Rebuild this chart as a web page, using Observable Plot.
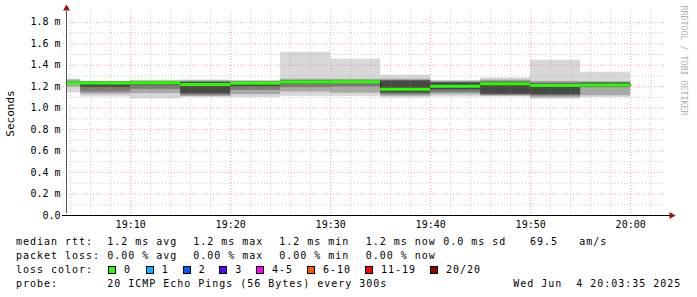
<!DOCTYPE html>
<html><head><meta charset="utf-8">
<script src="https://cdn.jsdelivr.net/npm/d3@7"></script>
<script src="https://cdn.jsdelivr.net/npm/@observablehq/plot@0.6"></script>
<style>
html,body{margin:0;padding:0;background:#fff;}
#wrap{width:697px;height:297px;overflow:hidden;background:#fff;}
#legend{position:relative;width:697px;height:65px;font-family:"DejaVu Sans Mono",monospace;font-size:10px;color:#000;}
#legend span.t{position:absolute;white-space:pre;line-height:12px;letter-spacing:0.98px;}
#legend span.sq{position:absolute;width:6px;height:6px;border:1px solid #000;}
svg{display:block;}
</style></head>
<body><div id="wrap"><div id="chart"></div><div id="legend"></div></div>
<script>
// ---- data (median RTT and smoke quantile bands, in milliseconds) ----
const segmentEnds = ["19:05","19:10","19:15","19:20","19:25","19:30","19:35","19:40","19:45","19:50","19:55","20:00"];
const medianRtt = [1.234,1.233,1.237,1.219,1.231,1.243,1.246,1.177,1.203,1.228,1.210,1.215];
const pingMax   = [1.269,1.246,1.259,1.262,1.259,1.520,1.455,1.306,1.259,1.281,1.446,1.334];
const smokeHi2  = [1.262,1.245,1.252,1.255,1.250,1.270,1.268,1.270,1.250,1.262,1.250,1.245];
const smokeHi3  = [1.245,1.244,1.245,1.245,1.243,1.258,1.258,1.258,1.242,1.250,1.235,1.238];
const smokeHi4  = [1.240,1.242,1.241,1.238,1.238,1.250,1.250,1.253,1.235,1.238,1.222,1.232];
const smokeLo4  = [1.232,1.191,1.215,1.135,1.200,1.225,1.230,1.141,1.170,1.130,1.125,1.200];
const smokeLo3  = [1.225,1.150,1.175,1.120,1.165,1.190,1.197,1.125,1.145,1.120,1.112,1.190];
const smokeLo2  = [1.197,1.129,1.135,1.108,1.125,1.150,1.140,1.110,1.126,1.112,1.098,1.115];
const pingMin   = [1.141,1.104,1.087,1.098,1.098,1.110,1.110,1.094,1.104,1.104,1.082,1.098];

const yTickValues = [0,0.2,0.4,0.6,0.8,1.0,1.2,1.4,1.6,1.8];
const yTickLabels = ["0.0","0.2 m","0.4 m","0.6 m","0.8 m","1.0 m","1.2 m","1.4 m","1.6 m","1.8 m"];
const xTickLabels = ["19:10","19:20","19:30","19:40","19:50","20:00"];

const legendRows = [
  ["median rtt:", "1.2 ms avg", "1.2 ms max", "1.2 ms min", "1.2 ms now", "0.0 ms sd", "69.5", "am/s"],
  ["packet loss:", "0.00 % avg", "0.00 % max", "0.00 % min", "0.00 % now"],
  ["loss color:"],
  ["probe:", "20 ICMP Echo Pings (56 Bytes) every 300s", "Wed Jun  4 20:03:35 2025"]
];
const lossLabels = ["0","1","2","3","4-5","6-10","11-19","20/20"];
const lossColors = ["#26ff00","#00b8ff","#0059ff","#5e00ff","#ff00ff","#ff5500","#ff0000","#a00000"];

// ---- build ----
const toTime = hm => { const [h,m] = hm.split(":").map(Number); return new Date(2025,5,4,h,m,0); };
const xStart = new Date(2025,5,4,19,3,35), xEnd = new Date(2025,5,4,20,3,35);
const STEP = 5*60*1000;
const segs = segmentEnds.map((e,i) => { const x2 = toTime(e); return {x1: new Date(+x2 - STEP), x2, med: medianRtt[i]}; });
const levels = [
  {lo: pingMin, hi: pingMax, fill: "#d8d8d8"},
  {lo: smokeLo2, hi: smokeHi2, fill: "#a8a8a8"},
  {lo: smokeLo3, hi: smokeHi3, fill: "#7a7a7a"},
  {lo: smokeLo4, hi: smokeHi4, fill: "#484848"}
];
const stepLine = [{x: segs[0].x1, y: medianRtt[0]}, ...segs.map(s => ({x: s.x2, y: s.med}))];

const yLabelMap = new Map(yTickValues.map((v,i) => [v.toFixed(1), yTickLabels[i]]));
const xMajor = xTickLabels.map(toTime);
const xLabelMap = new Map(xMajor.map((d,i) => [+d, xTickLabels[i]]));
const xMinor = d3.timeMinute.every(2).range(xStart, xEnd).filter(d => d.getMinutes() % 10 !== 0);
const yMinor = d3.range(1, 19, 2).map(k => k/10);

const plot = Plot.plot({
  width: 697, height: 232,
  marginLeft: 66, marginRight: 31, marginTop: 11, marginBottom: 17,
  style: {fontFamily: "DejaVu Sans Mono", fontSize: "10px", background: "white", color: "#000"},
  x: {type: "time", domain: [xStart, xEnd]},
  y: {domain: [0, 1.9]},
  marks: [
    ...levels.map(L => Plot.rect(segs, {x1: "x1", x2: "x2", y1: (d,i) => L.lo[i], y2: (d,i) => L.hi[i], fill: L.fill, clip: true})),
    Plot.ruleY(yMinor, {stroke: "#a0a0a0", strokeOpacity: 0.55, strokeDasharray: "1,2", insetLeft: -3}),
    Plot.ruleX(xMinor, {stroke: "#a0a0a0", strokeOpacity: 0.55, strokeDasharray: "1,2"}),
    Plot.ruleY(yTickValues.slice(1), {stroke: "#e05050", strokeOpacity: 0.5, strokeDasharray: "1,2", insetLeft: -3}),
    Plot.ruleX(xMajor, {stroke: "#e05050", strokeOpacity: 0.5, strokeDasharray: "1,2"}),
    Plot.line(stepLine, {x: "x", y: "y", curve: "step-before", stroke: "#202020", strokeWidth: 1, clip: true}),
    Plot.ruleY(segs, {x1: "x1", x2: "x2", y: "med", stroke: "#26ff00", strokeWidth: 3, clip: true}),
    Plot.ruleX([xStart], {y1: 0, y2: 1.9, stroke: "#555", strokeWidth: 1, insetTop: -2}),
    Plot.ruleY([0], {stroke: "#000", strokeWidth: 1, insetLeft: -4, insetRight: -4}),
    Plot.dot([0], {x: [xStart], y: [1.9], dy: -3, symbol: "triangle", r: 2.6, fill: "#a01010", stroke: "none"}),
    Plot.dot([0], {x: [xEnd], y: [0], dx: 5, symbol: "triangle", rotate: 90, r: 2.6, fill: "#a01010", stroke: "none"}),
    Plot.axisY({ticks: yTickValues, tickFormat: d => yLabelMap.get((+d).toFixed(1)), tickSize: 0, tickPadding: 6,
      label: null, fontSize: 10}),
    Plot.text(["Seconds"], {frameAnchor: "left", dx: -56, rotate: -90, textAnchor: "middle", fontSize: 11, fill: "#000"}),
    Plot.axisX({ticks: xMajor, tickFormat: d => xLabelMap.get(+d), tickSize: 0, tickPadding: 5, label: null, fontSize: 10}),
    Plot.text(["RRDTOOL / TOBI OETIKER"], {frameAnchor: "top-right", dx: 20, dy: -6, rotate: 90, textAnchor: "start",
      fill: "#b0b0b0", fontSize: 8.3})
  ]
});
document.getElementById("chart").appendChild(plot);

// ---- legend (HTML below the SVG) ----
const legend = document.getElementById("legend");
const rowTops = [4, 17.7, 31.7, 45.7];
const colX = [
  [16, 107.3, 193.3, 279.3, 365.7, 443.3, 530, 579.3],
  [16, 107.3, 193.3, 279.3, 365.7],
  [16],
  [16, 107.3, 513.3]
];
legendRows.forEach((row, r) => row.forEach((txt, c) => {
  const s = document.createElement("span");
  s.className = "t"; s.textContent = txt;
  s.style.left = colX[r][c] + "px"; s.style.top = rowTops[r] + "px";
  legend.appendChild(s);
}));
const sqX = [108, 145.7, 182.7, 219.3, 256, 307, 365, 430];
lossLabels.forEach((lab, i) => {
  const q = document.createElement("span");
  q.className = "sq"; q.style.left = sqX[i] + "px"; q.style.top = "34px"; q.style.background = lossColors[i];
  legend.appendChild(q);
  const t = document.createElement("span");
  t.className = "t"; t.textContent = lab; t.style.left = (sqX[i] + 16) + "px"; t.style.top = rowTops[2] + "px";
  legend.appendChild(t);
});
</script>
</body></html>
